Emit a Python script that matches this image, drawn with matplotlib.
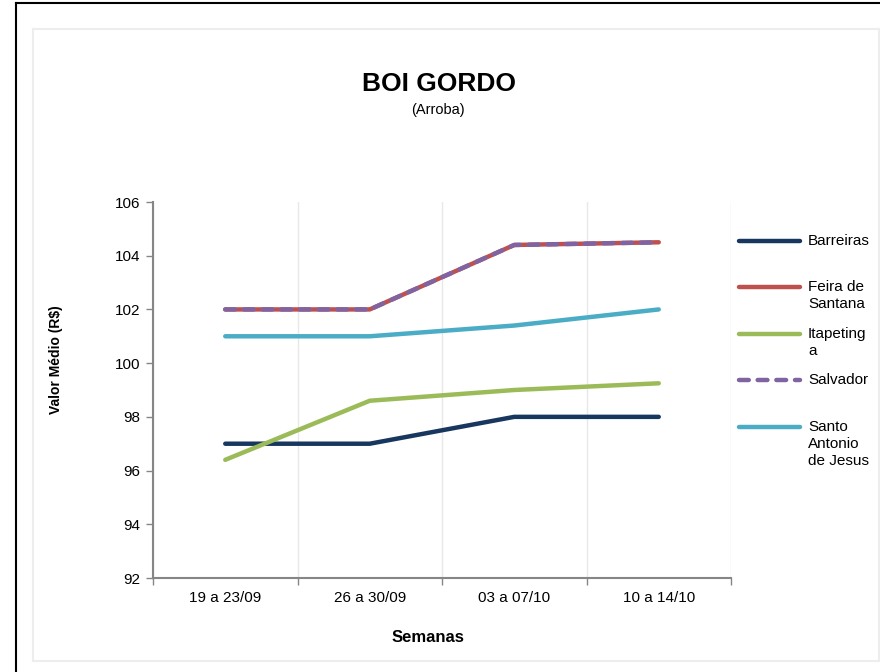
import matplotlib
matplotlib.use("Agg")
import matplotlib.pyplot as plt
from matplotlib.lines import Line2D
from matplotlib.patches import Rectangle

plt.rcParams['font.family'] = ['Liberation Sans', 'DejaVu Sans']

semanas = ["19 a 23/09", "26 a 30/09", "03 a 07/10", "10 a 14/10"]
barreiras = [97.0, 97.0, 98.0, 98.0]
feira = [102.0, 102.0, 104.4, 104.5]
itapetinga = [96.4, 98.6, 99.0, 99.25]
salvador = [102.0, 102.0, 104.4, 104.5]
santo_antonio = [101.0, 101.0, 101.4, 102.0]

series = [
    ("Barreiras", barreiras, "#17375E", "-"),
    ("Feira de\nSantana", feira, "#C0504D", "-"),
    ("Itapeting\na", itapetinga, "#9BBB59", "-"),
    ("Salvador", salvador, "#8064A2", "--"),
    ("Santo\nAntonio\nde Jesus", santo_antonio, "#4BACC6", "-"),
]

W, H = 880, 672
LW = 3.2
DASH = (2.2, 2.0)
fig = plt.figure(figsize=(8.8, 6.72), dpi=100)
ax = fig.add_axes([153 / W, 1 - 578 / H, (731 - 153) / W, (578 - 202) / H])

# outer frame lines and chart-area border
fig.add_artist(Line2D([16 / W, 16 / W], [0, 1 - 3 / H], color="black", lw=1.5))
fig.add_artist(Line2D([16 / W, 1], [1 - 3 / H, 1 - 3 / H], color="black", lw=1.5))
fig.add_artist(Rectangle((33 / W, 1 - 661 / H), (879 - 33) / W, (661 - 29) / H,
                         fill=False, edgecolor="#EDEDED", lw=1.5))

x = list(range(len(semanas)))
for name, vals, col, ls in series:
    if ls == "--":
        ax.plot(x, vals, color=col, lw=LW, dashes=DASH,
                dash_capstyle="round", solid_capstyle="round", zorder=4)
    else:
        ax.plot(x, vals, color=col, lw=LW, solid_capstyle="round", zorder=3)

ax.set_xlim(-0.5, len(semanas) - 0.5)
ax.set_ylim(92, 106)
ax.set_yticks(range(92, 107, 2))
ax.set_xticks([i - 0.5 for i in range(len(semanas) + 1)])
ax.set_xticklabels([])
ax.set_xticks(x, minor=True)
ax.set_xticklabels(semanas, minor=True)
ax.tick_params(axis="x", which="minor", length=0, pad=9, labelsize=11)
ax.tick_params(axis="x", which="major", length=5, width=1, color="#868686")
ax.tick_params(axis="y", length=5, width=1, color="#868686", labelsize=11, pad=4)
ax.grid(axis="x", which="major", color="#E8E8E8", lw=1)
ax.set_axisbelow(True)
for s in ["top", "right"]:
    ax.spines[s].set_visible(False)
for s in ["left", "bottom"]:
    ax.spines[s].set_color("#868686")
    ax.spines[s].set_linewidth(1.5)

fig.text(439 / W, 1 - 84 / H, "BOI GORDO", ha="center", va="center",
         fontsize=19, fontweight="bold")
fig.text(438 / W, 1 - 110 / H, "(Arroba)", ha="center", va="center", fontsize=10.5)
fig.text(56 / W, 1 - 360 / H, "Valor Médio (R$)", rotation=90, ha="center",
         va="center", fontsize=10, fontweight="bold")
fig.text(428 / W, 1 - 638 / H, "Semanas", ha="center", va="center",
         fontsize=12, fontweight="bold")

# legend drawn by hand so that the line sits on the first text line
leg_y = [241, 287, 334, 380, 427]
for (name, vals, col, ls), yy in zip(series, leg_y):
    yf = 1 - yy / H
    if ls == "--":
        fig.add_artist(Line2D([739 / W, 800 / W], [yf, yf], color=col, lw=LW,
                              dashes=DASH, dash_capstyle="round"))
    else:
        fig.add_artist(Line2D([739 / W, 800 / W], [yf, yf], color=col, lw=LW,
                              solid_capstyle="round"))
    for i, part in enumerate(name.split("\n")):
        fig.text(808 / W, 1 - (yy + 17 * i) / H, part, ha="left", va="center",
                 fontsize=11)

fig.savefig("out.png", dpi=100)
